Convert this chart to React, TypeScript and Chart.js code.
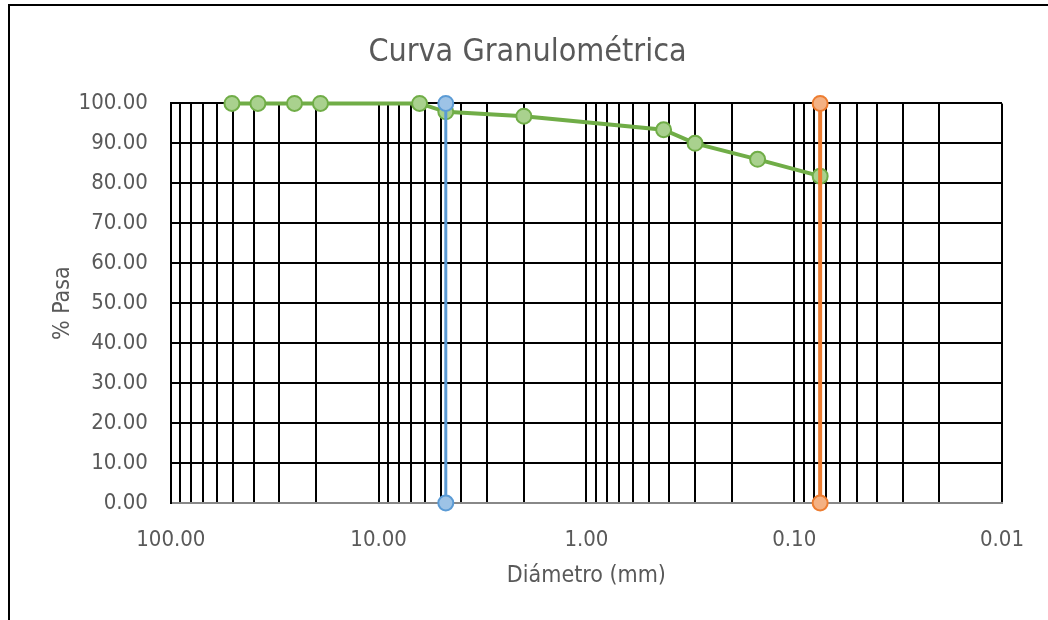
import React, { useEffect, useRef } from "react";
import { Chart, registerables } from "chart.js";

Chart.register(...registerables);

const diametros = [50.8, 38.1, 25.4, 19.05, 6.35, 4.75, 2.0, 0.425, 0.3, 0.15, 0.075];
const pasa = [100, 100, 100, 100, 100, 97.9, 96.8, 93.4, 90.0, 86.0, 81.8];
const lineaAzulX = [4.75, 4.75];
const lineaAzulY = [0, 100];
const lineaNaranjaX = [0.075, 0.075];
const lineaNaranjaY = [0, 100];
const gridX = [
  100, 90, 80, 70, 60, 50, 40, 30, 20,
  10, 9, 8, 7, 6, 5, 4, 3, 2,
  1, 0.9, 0.8, 0.7, 0.6, 0.5, 0.4, 0.3, 0.2,
  0.1, 0.09, 0.08, 0.07, 0.06, 0.05, 0.04, 0.03, 0.02, 0.01,
];
const etiquetasX = [100, 10, 1, 0.1, 0.01];
const etiquetasTextoX = ["100.00", "10.00", "1.00", "0.10", "0.01"];

const FONT = "'DejaVu Sans Condensed', 'DejaVu Sans', sans-serif";

export default function App() {
  const ref = useRef<HTMLCanvasElement | null>(null);
  useEffect(() => {
    if (!ref.current) return;
    const pts = (xs: number[], ys: number[]) => xs.map((x, i) => ({ x, y: ys[i] }));
    const chart = new Chart(ref.current, {
      type: "scatter",
      data: {
        datasets: [
          {
            data: pts(diametros, pasa),
            showLine: true,
            borderColor: "#70AD47",
            backgroundColor: "#A9D18E",
            pointBorderColor: "#70AD47",
            pointBackgroundColor: "#A9D18E",
            borderWidth: 4,
            pointRadius: 7.5,
            pointBorderWidth: 2,
            clip: false,
            order: 3,
          },
          {
            data: pts(lineaAzulX, lineaAzulY),
            showLine: true,
            borderColor: "#5B9BD5",
            pointBorderColor: "#5B9BD5",
            pointBackgroundColor: "#9DC3E6",
            borderWidth: 3,
            pointRadius: 7.5,
            pointBorderWidth: 2,
            clip: false,
            order: 2,
          },
          {
            data: pts(lineaNaranjaX, lineaNaranjaY),
            showLine: true,
            borderColor: "#ED7D31",
            pointBorderColor: "#ED7D31",
            pointBackgroundColor: "#F4B183",
            borderWidth: 4,
            pointRadius: 7.5,
            pointBorderWidth: 2,
            clip: false,
            order: 1,
          },
        ],
      },
      options: {
        animation: false,
        responsive: false,
        layout: { padding: { left: 48, right: 41, top: 33, bottom: 30 } },
        plugins: {
          legend: { display: false },
          tooltip: { enabled: false },
          title: {
            display: true,
            text: "Curva Granulométrica",
            color: "#595959",
            font: { family: FONT, size: 32, weight: "normal" },
            padding: { top: 0, bottom: 32 },
          },
        },
        scales: {
          x: {
            type: "logarithmic",
            reverse: true,
            min: 0.01,
            max: 100,
            afterBuildTicks: (scale: any) => {
              scale.ticks = gridX.map((v) => ({ value: v }));
            },
            ticks: {
              autoSkip: false,
              maxRotation: 0,
              color: "#595959",
              font: { family: FONT, size: 22 },
              padding: 24,
              callback: (v: any) => {
                const i = etiquetasX.findIndex((e) => Math.abs(e - Number(v)) < 1e-9);
                return i >= 0 ? etiquetasTextoX[i] : "";
              },
            },
            grid: { color: "#000", lineWidth: 2, drawTicks: false },
            border: { color: "#888", width: 2 },
            title: {
              display: true,
              text: "Diámetro (mm)",
              color: "#595959",
              font: { family: FONT, size: 23 },
              padding: { top: -15, bottom: 0 },
            },
          },
          y: {
            type: "linear",
            min: 0,
            max: 100,
            ticks: {
              stepSize: 10,
              color: "#595959",
              font: { family: FONT, size: 22 },
              padding: 23,
              callback: (v: any) => Number(v).toFixed(2),
            },
            grid: { color: "#000", lineWidth: 2, drawTicks: false },
            border: { color: "#000", width: 2 },
            title: {
              display: true,
              text: "% Pasa",
              color: "#595959",
              font: { family: FONT, size: 23 },
              padding: { top: 1, bottom: -21 },
            },
          },
        },
      },
    });
    return () => chart.destroy();
  }, []);
  return (
    <div style={{ position: "fixed", left: 0, top: 0, width: 1048, height: 620, overflow: "hidden", background: "#fff" }}>
      <div
        style={{
          position: "absolute",
          left: 8,
          top: 4,
          width: 1200,
          height: 800,
          borderLeft: "2px solid #000",
          borderTop: "2px solid #000",
        }}
      />
      <canvas ref={ref} width={1048} height={620} style={{ position: "absolute", left: 0, top: 0 }} />
    </div>
  );
}
